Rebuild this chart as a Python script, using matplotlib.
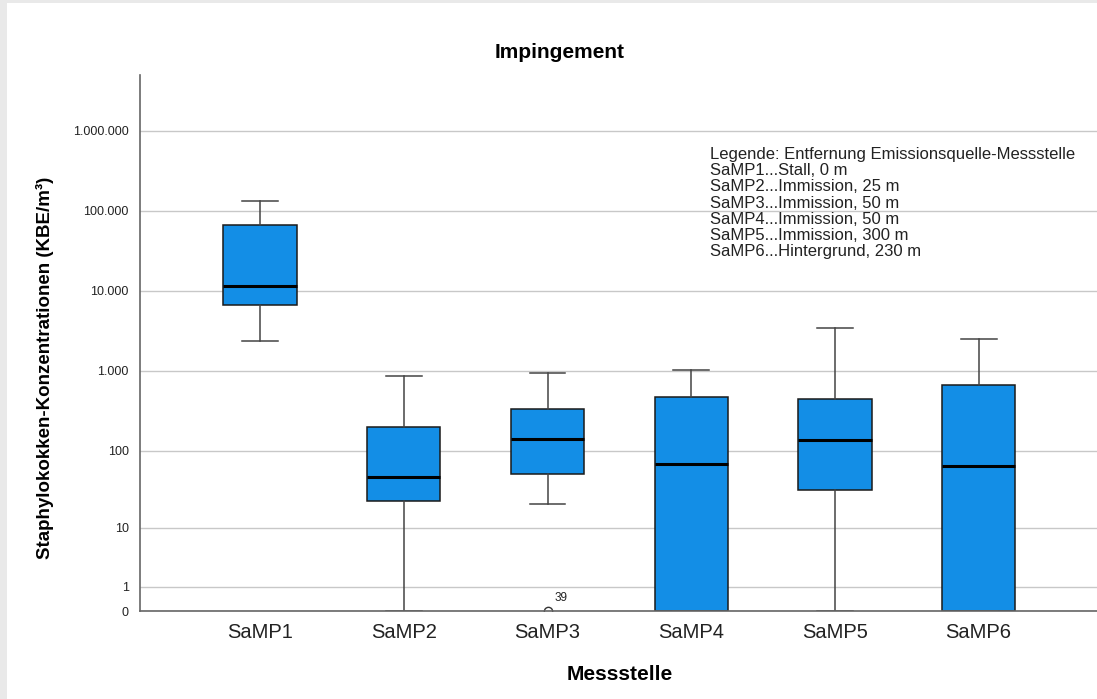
import numpy as np
import matplotlib
matplotlib.use("Agg")
import matplotlib.pyplot as plt
from matplotlib.ticker import FixedLocator, FuncFormatter
from matplotlib.patches import Rectangle

plt.rcParams['font.family'] = ['Liberation Sans', 'DejaVu Sans']

# Box statistics (KBE/m³)
stellen = ["SaMP1", "SaMP2", "SaMP3", "SaMP4", "SaMP5", "SaMP6"]
whisker_low = [2370, 0, 21, 0, 0, 0]
q1 = [6700, 23, 50, 0, 32, 0]
median = [11500, 46, 140, 68, 136, 64]
q3 = [66800, 198, 334, 472, 446, 667]
whisker_high = [133000, 865, 943, 1028, 3450, 2510]
outliers = [[], [], [0], [], [], []]
outlier_ids = [[], [], ["39"], [], [], []]

y_ticks = [0, 1, 10, 100, 1000, 10000, 100000, 1000000]

legend_lines = [
    "Legende: Entfernung Emissionsquelle-Messstelle",
    "SaMP1...Stall, 0 m",
    "SaMP2...Immission, 25 m",
    "SaMP3...Immission, 50 m",
    "SaMP4...Immission, 50 m",
    "SaMP5...Immission, 300 m",
    "SaMP6...Hintergrund, 230 m",
]

stats = []
for i, name in enumerate(stellen):
    stats.append({
        "label": name,
        "whislo": whisker_low[i],
        "q1": q1[i],
        "med": median[i],
        "q3": q3[i],
        "whishi": whisker_high[i],
        "fliers": outliers[i],
    })


def fwd(v):
    v = np.asarray(v, dtype=float)
    return np.log10(np.clip(v, 0, None) + 1)


def inv(y):
    return 10 ** np.asarray(y, dtype=float) - 1


W, H = 1097, 699
fig = plt.figure(figsize=(W / 100, H / 100), dpi=100)
fig.patch.set_facecolor("#e9e9e9")
fig.patches.append(Rectangle((7 / W, 0), 1, 1 - 3 / H, transform=fig.transFigure,
                             facecolor="white", edgecolor="none", zorder=-10))

ax = fig.add_axes([140 / W, 1 - 611 / H, 1 - 140 / W + 0.01, (611 - 75) / H])
ax.set_facecolor("none")
ax.set_yscale("function", functions=(fwd, inv))

positions = np.arange(1, len(stellen) + 1)
ax.bxp(stats, positions=positions, widths=0.51, patch_artist=True, showfliers=True,
       boxprops=dict(facecolor="#138ee6", edgecolor="#1a1a1a", linewidth=1.1),
       medianprops=dict(color="black", linewidth=2.2),
       whiskerprops=dict(color="#444444", linewidth=1.1),
       capprops=dict(color="#444444", linewidth=1.1),
       capwidths=0.25,
       flierprops=dict(marker="o", markerfacecolor="none", markeredgecolor="#333333",
                       markersize=6, markeredgewidth=1.0))

for i, ids in enumerate(outlier_ids):
    for v, lab in zip(outliers[i], ids):
        ax.annotate(lab, (positions[i], v), xytext=(5, 7), textcoords="offset points",
                    fontsize=8.5, color="#222222")

ax.set_xlim(0.164, 6.9)
ax.set_ylim(0, inv(6.7))

ax.yaxis.set_major_locator(FixedLocator(y_ticks))
ax.yaxis.set_minor_locator(FixedLocator([]))
ax.yaxis.set_major_formatter(FuncFormatter(lambda v, p: f"{int(round(v)):,}".replace(",", ".")))
ax.grid(axis="y", color="#c8c8c8", linewidth=1.0)
ax.set_axisbelow(True)

ax.tick_params(axis="y", length=0, pad=8, labelsize=9, labelcolor="#222222")
ax.tick_params(axis="x", length=0, pad=9, labelsize=14.5, labelcolor="#222222")

for s in ["top", "right"]:
    ax.spines[s].set_visible(False)
for s in ["left", "bottom"]:
    ax.spines[s].set_color("#666666")
    ax.spines[s].set_linewidth(1.2)

fig.text(560 / W, 1 - 52 / H, "Impingement", fontsize=15, fontweight="bold",
         ha="center", va="center")
fig.text(620 / W, 1 - 675 / H, "Messstelle", fontsize=15, fontweight="bold",
         ha="center", va="center")
fig.text(45 / W, 1 - 368 / H, "Staphylokokken-Konzentrationen (KBE/m³)", fontsize=13.5,
         fontweight="bold", ha="center", va="center", rotation=90)

ax.text(710 / W, 1 - 147 / H, "\n".join(legend_lines), transform=fig.transFigure,
        fontsize=12, va="top", ha="left", color="#222222", linespacing=1.1)

fig.savefig("out.png", dpi=100)
